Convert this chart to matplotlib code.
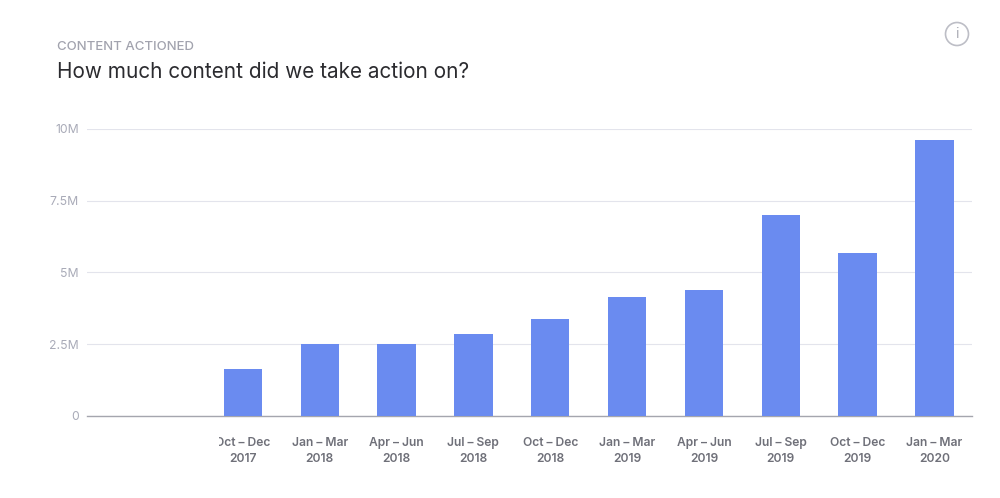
#!/usr/bin/env python

import matplotlib
matplotlib.use('Agg')
import matplotlib.pyplot as plt
from matplotlib.patches import Ellipse
from matplotlib.transforms import Bbox

#data
quarters = ['Oct – Dec\n2017', 'Jan – Mar\n2018', 'Apr – Jun\n2018', 'Jul – Sep\n2018', 'Oct – Dec\n2018',
            'Jan – Mar\n2019', 'Apr – Jun\n2019', 'Jul – Sep\n2019', 'Oct – Dec\n2019', 'Jan – Mar\n2020']
content_actioned = [1.62, 2.50, 2.50, 2.87, 3.36, 4.15, 4.38, 6.98, 5.67, 9.62]
y_ticks = [0, 2.5, 5, 7.5, 10]
y_labels = ['0', '2.5M', '5M', '7.5M', '10M']

W, H = 1000, 498
plt.rcParams['font.family'] = ['Inter', 'DejaVu Sans']

fig = plt.figure(figsize=(W / 100, H / 100), dpi=100)
ax = fig.add_axes([87 / W, 1 - 416 / H, (972 - 87) / W, (416 - 128.7) / H])

#bars and grid
x = list(range(len(quarters)))
ax.bar(x, content_actioned, width=0.5, color='#6A8BF0', zorder=3)
ax.set_xlim(-2.03, 9.49)
ax.set_ylim(0, 10)
ax.set_yticks(y_ticks)
ax.set_yticklabels(y_labels, fontsize=8.8, color='#A9ABB8')
ax.set_xticks(x)
ax.set_xticklabels(quarters, fontsize=8.7, color='#6F7079', fontweight='semibold', linespacing=1.4)
ax.tick_params(axis='y', length=0, pad=5.8)
ax.tick_params(axis='x', length=0, pad=15.3)
ax.grid(axis='y', color='#E3E4EC', linewidth=0.8, zorder=0)
for side in ['top', 'right', 'left']:
    ax.spines[side].set_visible(False)
ax.spines['bottom'].set_color('#A5A6AE')
ax.spines['bottom'].set_linewidth(1.0)

#first label is cut off at its left edge in the original
first = ax.get_xticklabels()[0]
first.set_clip_on(True)
first.set_clip_box(Bbox([[219, 0], [W, H]]))

#headings
fig.text(57 / W, 1 - 47 / H, 'CONTENT ACTIONED', fontsize=9.5, color='#A2A3AE', fontweight='medium', va='center')
fig.text(57 / W, 1 - 72.5 / H, 'How much content did we take action on?', fontsize=14.95, color='#2B2B2F', va='center')

#info icon
fig.add_artist(Ellipse((957 / W, 1 - 34 / H), 23 / W, 23 / H, transform=fig.transFigure,
                       facecolor='none', edgecolor='#BDBEC6', linewidth=1.2))
fig.text(957 / W, 1 - 34.5 / H, 'i', fontsize=10, color='#A9AAB3', ha='center', va='center')

fig.savefig('out.png', dpi=100)
